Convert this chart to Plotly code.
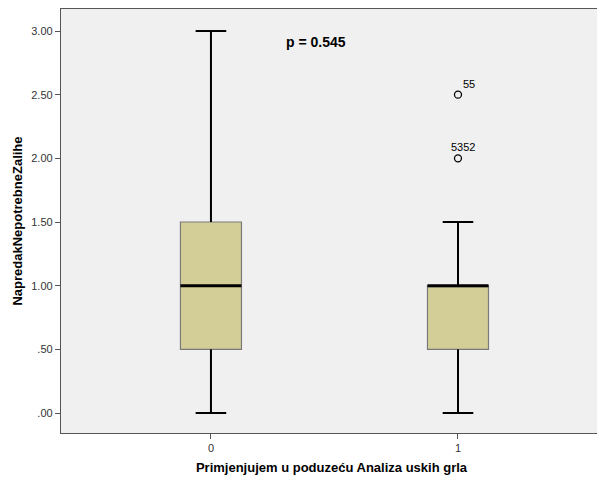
import plotly.graph_objects as go

categories = [0, 1]
q1 = [0.5, 0.5]
median = [1.0, 1.0]
q3 = [1.5, 1.0]
lower_whisker = [0.0, 0.0]
upper_whisker = [3.0, 1.5]
outlier_x = [1, 1]
outlier_y = [2.5, 2.0]
outlier_labels = ["55", "5352"]
y_ticks = [0.0, 0.5, 1.0, 1.5, 2.0, 2.5, 3.0]
y_tick_labels = [".00", ".50", "1.00", "1.50", "2.00", "2.50", "3.00"]
p_text = "p = 0.545"

FILL = "#D3CE97"
FONT = "Liberation Sans, Arial, sans-serif"
BOX_W = 0.247
CAP_HALF = BOX_W * 0.25

fig = go.Figure()

fig.add_trace(go.Box(
    x=categories, q1=q1, median=median, q3=q3,
    lowerfence=lower_whisker, upperfence=upper_whisker,
    fillcolor=FILL, line=dict(color="#7a7a7a", width=1.2),
    width=BOX_W, whiskerwidth=0.5, boxpoints=False, showlegend=False,
    hoverinfo="skip",
))

# whiskers and caps in black
for i, c in enumerate(categories):
    fig.add_trace(go.Scatter(
        x=[c, c, None, c, c, None,
           c - CAP_HALF, c + CAP_HALF, None, c - CAP_HALF, c + CAP_HALF],
        y=[q3[i], upper_whisker[i], None, q1[i], lower_whisker[i], None,
           upper_whisker[i], upper_whisker[i], None, lower_whisker[i], lower_whisker[i]],
        mode="lines", line=dict(color="black", width=2),
        showlegend=False, hoverinfo="skip",
    ))
    fig.add_trace(go.Scatter(
        x=[c - BOX_W / 2, c + BOX_W / 2], y=[median[i], median[i]],
        mode="lines", line=dict(color="black", width=3),
        showlegend=False, hoverinfo="skip",
    ))

fig.add_trace(go.Scatter(
    x=outlier_x, y=outlier_y, mode="markers",
    marker=dict(symbol="circle-open", size=7, color="black", line=dict(width=1.3)),
    showlegend=False, hoverinfo="skip",
))

for x, y, t in zip(outlier_x, outlier_y, outlier_labels):
    fig.add_annotation(x=x, y=y, text=t, showarrow=False,
                       xanchor="left" if len(t) < 3 else "center",
                       xshift=3 if len(t) < 3 else 5, yshift=11,
                       font=dict(family=FONT, size=11, color="black"))

fig.add_annotation(x=0.425, y=2.914, text="<b>" + p_text + "</b>", showarrow=False,
                   xanchor="center", yanchor="middle",
                   font=dict(family=FONT, size=14, color="black"))

# page body has an 8px default margin; size the figure to fit the window
fig.update_layout(
    width=597, height=474,
    margin=dict(l=53, r=3, t=1, b=49),
    paper_bgcolor="white", plot_bgcolor="#F0F0F0",
    font=dict(family=FONT, size=11, color="#333"),
)
fig.update_xaxes(
    range=[-0.607, 1.583], tickmode="array", tickvals=categories,
    ticktext=[str(c) for c in categories],
    showgrid=False, zeroline=False,
    showline=True, linecolor="#555", linewidth=1.3, mirror=True,
    ticks="outside", ticklen=5, tickcolor="#555",
    tickfont=dict(family=FONT, size=11, color="#333"),
    title=dict(text="<b>Primjenjujem u poduzeću Analiza uskih grla</b>",
               font=dict(family=FONT, size=13, color="black"), standoff=9),
)
fig.update_yaxes(
    range=[-0.157, 3.173], tickmode="array", tickvals=y_ticks,
    ticktext=y_tick_labels,
    showgrid=False, zeroline=False,
    showline=True, linecolor="#555", linewidth=1.3, mirror=True,
    ticks="outside", ticklen=5, tickcolor="#555",
    tickfont=dict(family=FONT, size=11, color="#333"),
    title=dict(text="<b>NapredakNepotrebneZalihe</b>",
               font=dict(family=FONT, size=13, color="black"), standoff=5),
)

fig.write_html("out.html")
